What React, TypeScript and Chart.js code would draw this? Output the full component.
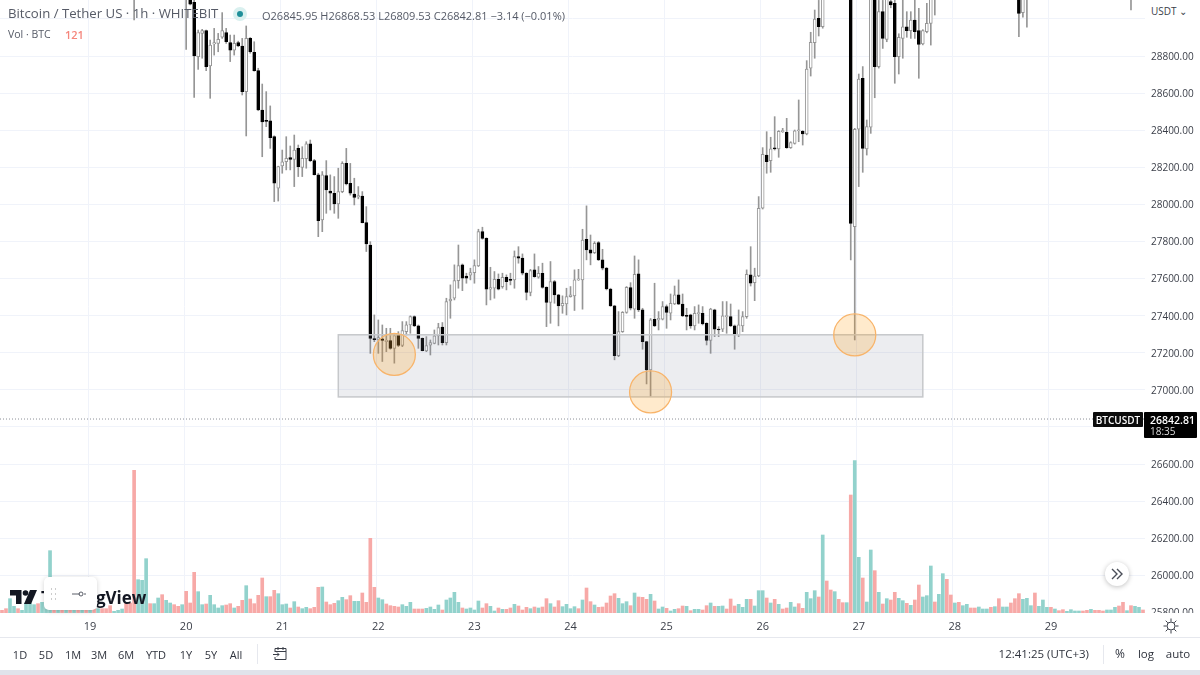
import { useEffect, useRef } from 'react';
import type { CSSProperties } from 'react';
import { Chart, registerables } from 'chart.js';

Chart.register(...registerables);

const gap = (n: number) => Array(n).fill(null);

// hourly candles, index 0 = first hour on the left edge; null = above the visible range
const opens = [
  ...gap(33), 29150, ...gap(12),
  29160, 29130, 29090, 28797, 28922, 28937, 28746, 28865, 28868, 28901,
  28926, 28872, 28832, 28872, 28854, 28608, 28895, 28820, 28721, 28509,
  28452, 28450, 28365, 28087, 28207, 28230, 28252, 28243, 28302, 28200,
  28247, 28326, 28236, 28159, 27916, 28155, 28072, 28060, 28002, 28069,
  28221, 28113, 28056, 28040, 28045, 27902, 27781, 27275, 27269, 27275,
  27260, 27266, 27223, 27296, 27239, 27314, 27350, 27395, 27345, 27278,
  27210, 27241, 27251, 27291, 27338, 27255, 27480, 27494, 27589, 27674,
  27614, 27618, 27632, 27668, 27853, 27817, 27543, 27548, 27596, 27557,
  27607, 27593, 27593, 27719, 27710, 27629, 27525, 27647, 27607, 27629,
  27553, 27472, 27584, 27512, 27453, 27463, 27503, 27507, 27593, 27593,
  27812, 27755, 27740, 27794, 27701, 27656, 27544, 27453, 27185, 27314,
  27418, 27551, 27435, 27625, 27431, 27260, 27108, 27381, 27377, 27381,
  27449, 27413, 27463, 27512, 27462, 27399, 27404, 27345, 27410, 27413,
  27359, 27266, 27431, 27327, 27327, 27395, 27395, 27345, 27296, 27345,
  27395, 27620, 27578, 27614, 27979, 28266, 28236, 28303, 28299, 28392,
  28389, 28306, 28329, 28397, 28394, 28380, 28734, 28872, 29003, 28958,
  ...gap(6),
  29150, 27880, 28405, 28680, 28299, 28416, 29110, 28743, 29039, 28890,
  29093, 29084, 28797, 28895, 28958, 28937, 28994, 28937, 28865, 28931, 28976, 29110,
  ...gap(20), 29150, 29034, 29110, ...gap(25), 29180, ...gap(3),
];

const highs = [
  ...gap(33), 29200, ...gap(12),
  29200, 29150, 29110, 28940, 28944, 28940, 28886, 28949, 28922, 29034,
  28949, 28913, 28913, 28880, 28895, 28962, 28900, 28877, 28734, 28649,
  28608, 28531, 28370, 28206, 28293, 28365, 28315, 28374, 28320, 28311,
  28338, 28347, 28243, 28168, 28177, 28236, 28159, 28150, 28195, 28230,
  28302, 28221, 28141, 28096, 28069, 27988, 27799, 27404, 27377, 27350,
  27332, 27332, 27305, 27314, 27368, 27368, 27399, 27399, 27350, 27280,
  27287, 27269, 27323, 27359, 27363, 27494, 27566, 27674, 27781, 27679,
  27629, 27656, 27701, 27866, 27877, 27820, 27661, 27638, 27625, 27629,
  27620, 27629, 27749, 27772, 27733, 27632, 27650, 27733, 27665, 27683,
  27556, 27692, 27590, 27515, 27507, 27548, 27557, 27647, 27650, 27866,
  27992, 27835, 27799, 27800, 27758, 27660, 27548, 27456, 27422, 27422,
  27557, 27578, 27722, 27701, 27440, 27262, 27385, 27575, 27422, 27476,
  27458, 27517, 27560, 27593, 27517, 27440, 27408, 27449, 27458, 27449,
  27362, 27440, 27435, 27341, 27476, 27476, 27463, 27350, 27431, 27422,
  27647, 27772, 27656, 28042, 28306, 28392, 28362, 28473, 28398, 28410,
  28464, 28338, 28401, 28563, 28398, 28775, 28928, 29048, 29100, 29140,
  ...gap(6),
  29200, 28410, 28703, 28743, 28455, 29120, 29120, 29100, 29100, 29120,
  29110, 29110, 28920, 29102, 29039, 29039, 29102, 29057, 28942, 29084, 29120, 29180,
  ...gap(20), 29200, 29120, 29160, ...gap(25), 29200, ...gap(3),
];

const lows = [
  ...gap(33), 28994, ...gap(12),
  28836, 29075, 28577, 28728, 28788, 28721, 28572, 28805, 28823, 28895,
  28868, 28770, 28805, 28850, 28590, 28369, 28815, 28718, 28505, 28257,
  28419, 28302, 28015, 28018, 28168, 28186, 28186, 28096, 28150, 28150,
  28195, 28230, 28158, 27826, 27853, 27952, 27970, 27952, 27925, 28063,
  28105, 28050, 27997, 28030, 27900, 27746, 27197, 27260, 27197, 27153,
  27206, 27219, 27144, 27233, 27233, 27296, 27305, 27341, 27224, 27210,
  27206, 27188, 27248, 27242, 27242, 27242, 27386, 27485, 27548, 27535,
  27575, 27593, 27575, 27665, 27812, 27458, 27485, 27494, 27539, 27548,
  27539, 27566, 27548, 27683, 27620, 27485, 27507, 27607, 27602, 27548,
  27341, 27359, 27467, 27345, 27413, 27404, 27500, 27428, 27590, 27435,
  27701, 27674, 27735, 27697, 27647, 27539, 27450, 27162, 27179, 27310,
  27413, 27431, 27386, 27422, 27219, 27032, 26964, 27341, 27323, 27377,
  27332, 27377, 27460, 27460, 27395, 27323, 27332, 27323, 27359, 27350,
  27242, 27197, 27287, 27287, 27314, 27305, 27341, 27219, 27287, 27314,
  27386, 27560, 27481, 27610, 27975, 28168, 28173, 28293, 28254, 28388,
  28302, 28302, 28325, 28338, 28320, 28375, 28692, 28788, 28908, 28950,
  ...gap(6),
  27700, 27269, 28096, 28173, 28266, 28383, 28575, 28735, 28841, 28877,
  29060, 28653, 28703, 28788, 28901, 28895, 28895, 28680, 28860, 28925, 28859, 29021,
  ...gap(20), 28904, 29009, 28955, ...gap(25), 29048, ...gap(3),
];

const closes = [
  ...gap(33), 29180, ...gap(12),
  29120, 29080, 28800, 28926, 28937, 28743, 28859, 28872, 28890, 28937,
  28877, 28832, 28868, 28854, 28608, 28895, 28823, 28721, 28509, 28444,
  28448, 28360, 28114, 28204, 28230, 28248, 28243, 28293, 28204, 28248,
  28326, 28236, 28160, 27912, 28159, 28078, 28060, 28002, 28069, 28221,
  28110, 28060, 28038, 28048, 27902, 27787, 27278, 27271, 27282, 27266,
  27269, 27223, 27293, 27239, 27320, 27350, 27395, 27345, 27278, 27212,
  27239, 27255, 27291, 27336, 27255, 27476, 27489, 27589, 27670, 27602,
  27602, 27632, 27670, 27853, 27817, 27543, 27552, 27596, 27543, 27607,
  27584, 27590, 27719, 27710, 27629, 27525, 27643, 27611, 27629, 27553,
  27472, 27584, 27512, 27453, 27467, 27503, 27512, 27593, 27597, 27808,
  27755, 27737, 27790, 27701, 27656, 27544, 27453, 27185, 27314, 27418,
  27553, 27440, 27623, 27431, 27260, 27108, 27377, 27345, 27386, 27449,
  27417, 27467, 27512, 27462, 27399, 27396, 27345, 27413, 27417, 27356,
  27266, 27435, 27327, 27323, 27399, 27398, 27345, 27296, 27350, 27395,
  27623, 27575, 27614, 27979, 28270, 28230, 28299, 28299, 28394, 28396,
  28306, 28333, 28396, 28401, 28380, 28730, 28874, 28999, 28958, 29110,
  ...gap(6),
  27898, 28405, 28676, 28302, 28419, 29110, 28743, 29039, 28895, 29105,
  29075, 28797, 28901, 28958, 28937, 28994, 28931, 28863, 28937, 28976, 29110, 29170,
  ...gap(20), 29030, 29110, 29150, ...gap(25), 29160, ...gap(3),
];

// BTC per hour
const volumes = [
  107, 173, 573, 267, 173, 107, 400, 400, 333, 373,
  427, 333, 2493, 267, 240, 200, 293, 213, 187, 267,
  160, 200, 240, 173, 173, 173, 173, 293, 67, 107,
  160, 400, 400, 5707, 1333, 1307, 2173, 373, 373, 600,
  733, 507, 400, 333, 267, 333, 867, 400, 1627, 853,
  333, 360, 707, 333, 200, 293, 320, 373, 200, 267,
  507, 1093, 560, 373, 707, 1400, 653, 653, 907, 773,
  333, 360, 200, 453, 240, 173, 227, 173, 227, 1027,
  1040, 440, 333, 387, 493, 627, 533, 693, 467, 467,
  800, 427, 2987, 1027, 600, 533, 360, 293, 267, 240,
  333, 267, 427, 160, 160, 160, 187, 240, 147, 320,
  120, 520, 600, 827, 427, 200, 160, 200, 120, 480,
  200, 373, 267, 80, 200, 147, 147, 200, 347, 280,
  120, 227, 173, 240, 200, 240, 573, 373, 240, 493,
  253, 347, 173, 253, 173, 520, 1000, 453, 320, 227,
  240, 400, 680, 773, 587, 373, 453, 293, 800, 640,
  627, 547, 747, 480, 160, 240, 187, 80, 147, 173,
  280, 267, 93, 147, 147, 120, 293, 400, 267, 267,
  280, 160, 560, 280, 347, 227, 547, 547, 280, 893,
  893, 600, 400, 547, 347, 160, 200, 427, 240, 373,
  187, 827, 573, 893, 640, 3120, 1280, 920, 853, 547,
  413, 413, 4720, 6093, 2227, 1400, 440, 2520, 1693, 827,
  360, 573, 520, 827, 587, 493, 387, 307, 520, 1120,
  640, 693, 1880, 440, 747, 1573, 1347, 720, 400, 427,
  293, 347, 200, 200, 240, 160, 160, 227, 253, 573,
  240, 240, 400, 573, 773, 547, 587, 293, 800, 267,
  520, 227, 227, 160, 93, 133, 67, 133, 80, 80,
  80, 107, 147, 107, 107, 80, 120, 120, 227, 280,
  427, 93, 293, 267, 227, 121,
];

// u = up bar, d = down bar, same order as volumes
const volumeSides = [
  'dduuduuuud', 'uuudududud', 'udududdduu', 'uddduuuduu', 'duuddudddu',
  'uduuuuddud', 'dudddduddu', 'uududuuddd', 'uddduudduu', 'dddduudddd',
  'uuuddduuuu', 'duuuuduuuu', 'dduududdud', 'ddududdudd', 'uuuududdud',
  'dddduuudud', 'dduduuduud', 'duduuddudu', 'uddduuuduu', 'udududduud',
  'duuududdud', 'duduuduudu', 'dudduududd', 'uuuduuddud', 'uudduuudud',
  'uuddduuudu', 'uududduuuu', 'dduddduuud', 'duduud',
].join('');

const dayLabels: Record<number, string> = {
  22: '19', 46: '20', 70: '21', 94: '22', 118: '23', 142: '24',
  166: '25', 190: '26', 214: '27', 238: '28', 262: '29',
};
const hours = volumes.map((_, i) => dayLabels[i] ?? '');

const priceTicks = [25800, 26000, 26200, 26400, 26600, 26800, 27000, 27200, 27400, 27600, 27800, 28000, 28200, 28400, 28600, 28800, 29000];
const hiddenPriceLabels = [26800, 29000];
const lastPrice = 26842.81;

// drawn zone and the three touches
const zone = { fromHour: 84, toHour: 230, top: 27297, bottom: 26962 };
const touches = [
  { hour: 98, price: 27191 },
  { hour: 162, price: 26989 },
  { hour: 213, price: 27296 },
];

const FONT = '"Open Sans", sans-serif';
const GRID = '#f0f3fa';
const UP_VOL = '#92d2cc';
const DOWN_VOL = '#f7a9a7';

const noPadding = (s: any) => {
  s.paddingLeft = 0;
  s.paddingRight = 0;
  s.paddingTop = 0;
  s.paddingBottom = 0;
};

const drawings = {
  id: 'drawings',
  afterDatasetsDraw(chart: Chart) {
    const { ctx, chartArea } = chart;
    const x = chart.scales.x;
    const y = chart.scales.y;
    ctx.save();

    const lastY = y.getPixelForValue(lastPrice);
    ctx.strokeStyle = '#8b8f98';
    ctx.lineWidth = 1;
    ctx.setLineDash([1, 2]);
    ctx.beginPath();
    ctx.moveTo(chartArea.left, lastY);
    ctx.lineTo(chartArea.right, lastY);
    ctx.stroke();
    ctx.setLineDash([]);

    const left = x.getPixelForValue(zone.fromHour);
    const right = x.getPixelForValue(zone.toHour);
    const top = y.getPixelForValue(zone.top);
    const bottom = y.getPixelForValue(zone.bottom);
    ctx.fillStyle = 'rgba(120, 130, 150, 0.14)';
    ctx.fillRect(left, top, right - left, bottom - top);
    ctx.strokeStyle = '#c6c8cb';
    ctx.lineWidth = 1.5;
    ctx.strokeRect(left, top, right - left, bottom - top);

    for (const t of touches) {
      ctx.beginPath();
      ctx.arc(x.getPixelForValue(t.hour), y.getPixelForValue(t.price), 21, 0, Math.PI * 2);
      ctx.fillStyle = 'rgba(255, 152, 0, 0.2)';
      ctx.fill();
      ctx.strokeStyle = '#f8b46a';
      ctx.lineWidth = 1.3;
      ctx.stroke();
    }
    ctx.restore();
  },
};

function PriceChart() {
  const canvasRef = useRef<HTMLCanvasElement>(null);

  useEffect(() => {
    if (!canvasRef.current) return;
    const chart = new Chart(canvasRef.current, {
      type: 'bar',
      data: {
        labels: hours,
        datasets: [
          {
            label: 'Vol',
            data: volumes,
            yAxisID: 'vol',
            order: 3,
            grouped: false,
            barThickness: 3,
            backgroundColor: volumes.map((_, i) => (volumeSides[i] === 'u' ? UP_VOL : DOWN_VOL)),
          },
          {
            label: 'Wick',
            data: highs.map((h, i) => (h === null ? null : [lows[i], h])),
            yAxisID: 'y',
            order: 2,
            grouped: false,
            barThickness: 1,
            backgroundColor: '#969696',
          },
          {
            label: 'Body',
            data: opens.map((o, i) => (o === null ? null : [o, closes[i]])),
            yAxisID: 'y',
            order: 1,
            grouped: false,
            barThickness: 3,
            minBarLength: 1,
            borderWidth: 1,
            borderSkipped: false,
            backgroundColor: opens.map((o, i) => (closes[i] >= o ? '#ffffff' : '#000000')),
            borderColor: opens.map((o, i) => (closes[i] >= o ? '#969696' : '#000000')),
          },
        ],
      } as any,
      options: {
        responsive: false,
        animation: false,
        devicePixelRatio: 1,
        layout: { padding: { left: 0, right: 0, top: 0, bottom: 38 } },
        plugins: { legend: { display: false }, tooltip: { enabled: false } },
        scales: {
          x: {
            offset: true,
            afterFit: (s: any) => { s.height = 24; noPadding(s); },
            border: { display: false },
            grid: {
              drawTicks: false,
              color: (c: any) => (c.tick && c.tick.label ? GRID : 'transparent'),
            },
            ticks: {
              autoSkip: false,
              maxRotation: 0,
              padding: 7,
              color: '#3a3e48',
              font: { family: FONT, size: 11 },
            },
          },
          y: {
            position: 'right',
            min: 25797,
            max: 29102,
            afterFit: (s: any) => { s.width = 55; noPadding(s); },
            afterBuildTicks: (s: any) => { s.ticks = priceTicks.map((value) => ({ value })); },
            border: { display: false },
            grid: { color: GRID, drawTicks: false },
            ticks: {
              padding: 6,
              labelOffset: 1,
              color: '#3a3e48',
              font: { family: FONT, size: 10 },
              callback: (v: any) => (hiddenPriceLabels.includes(Number(v)) ? '' : Number(v).toFixed(2)),
            },
          },
          vol: { display: false, min: 0, max: 24520 },
        },
      },
      plugins: [drawings],
    });
    return () => chart.destroy();
  }, []);

  return <canvas ref={canvasRef} width={1200} height={675} style={{ position: 'absolute', left: 0, top: 0, width: 1200, height: 675 }} />;
}

function Text({ x, y, size = 12, color = '#3a3e48', right, center, weight, children }: any) {
  const style: CSSProperties = {
    position: 'absolute',
    top: y,
    left: center || right ? undefined : x,
    lineHeight: 1,
    fontSize: size,
    color,
    fontWeight: weight,
    whiteSpace: 'nowrap',
    transform: 'translateY(-50%)' + (center ? ' translateX(-50%)' : ''),
  };
  if (center) style.left = x;
  if (right) style.right = 1200 - x;
  return <div style={style}>{children}</div>;
}

const box = (x: number, y: number, w: number, h: number, extra: CSSProperties = {}): CSSProperties => ({
  position: 'absolute', left: x, top: y, width: w, height: h, ...extra,
});

const rangeButtons: [string, number][] = [
  ['1D', 20], ['5D', 46], ['1M', 73], ['3M', 99], ['6M', 126], ['YTD', 156], ['1Y', 186], ['5Y', 211], ['All', 236],
];

export default function App() {
  return (
    <div style={{ position: 'fixed', left: 0, top: 0, width: 1200, height: 675, overflow: 'hidden', background: '#fff', fontFamily: FONT }}>
      <PriceChart />

      <Text x={8} y={14} size={13.2} color="#555a66">Bitcoin / Tether US · 1h · WHITEBIT</Text>
      <div style={box(233, 7, 14, 14, { borderRadius: 7, background: '#d9f0ef' })} />
      <div style={box(237, 11, 6, 6, { borderRadius: 3, background: '#1f8f99' })} />
      <Text x={262} y={15} size={11} color="#555a66">O26845.95 H26868.53 L26809.53 C26842.81 −3.14 (−0.01%)</Text>
      <Text x={8} y={34} size={10.5} color="#555a66">Vol · BTC</Text>
      <Text x={65} y={34} size={11} color="#f5867c" weight={600}>121</Text>

      <div style={box(1146, 0, 54, 24, { background: '#fff' })} />
      <Text x={1151} y={11} size={10} color="#3a3e48">USDT ⌄</Text>

      <div style={box(1093, 412, 50, 15, { background: '#0c0c0c', borderRadius: 1 })} />
      <Text x={1118} y={419.5} size={10} center color="#fff" weight={600}>BTCUSDT</Text>
      <div style={box(1144, 412, 53, 26, { background: '#000', borderRadius: 1 })} />
      <Text x={1150} y={419.5} size={10.5} color="#fff" weight={600}>26842.81</Text>
      <Text x={1150} y={431} size={10} color="#ddd">18:35</Text>

      <div style={box(1146, 613, 54, 23, { background: '#fff' })} />
      <svg style={box(1162, 617, 18, 18)} viewBox="0 0 18 18" fill="none" stroke="#3a3e48" strokeWidth="1">
        <circle cx="9" cy="9" r="4" />
        <path d="M9 1.5v3M9 13.5v3M1.5 9h3M13.5 9h3M3.7 3.7l2.1 2.1M12.2 12.2l2.1 2.1M3.7 14.3l2.1-2.1M12.2 5.8l2.1-2.1" />
      </svg>

      <div style={box(1105, 562, 24, 24, { borderRadius: 12, background: '#fff', boxShadow: '0 1px 5px rgba(0,0,0,.25)' })} />
      <svg style={box(1110, 568, 14, 12)} viewBox="0 0 14 12" fill="none" stroke="#4a4e58" strokeWidth="1.4">
        <path d="M2 1l5 5-5 5M7 1l5 5-5 5" />
      </svg>

      <svg style={box(10, 589, 27, 16)} viewBox="0 0 27 16" fill="#131722">
        <path d="M0 1h11.5v14H6V6.5H0z" />
        <circle cx="15.5" cy="4" r="2.8" />
        <path d="M20 1h7l-6 14h-7z" />
      </svg>
      <Text x={41} y={597} size={17} color="#131722" weight={700}>TradingView</Text>
      <div style={box(44, 577, 53, 33, { borderRadius: 5, background: '#fff', boxShadow: '0 1px 5px rgba(0,0,0,.18)' })} />
      <svg style={box(48, 586, 45, 16)} viewBox="0 0 45 16" fill="none" stroke="#5a5e68">
        <path d="M3 3h.8M7 3h.8M3 8h.8M7 8h.8M3 13h.8M7 13h.8" stroke="#aaa" strokeWidth="1.4" />
        <path d="M24 8h8M38 8h-2" />
        <circle cx="33" cy="8" r="2" />
      </svg>

      <div style={box(0, 637, 1200, 1, { background: '#e6e8ee' })} />
      {rangeButtons.map(([label, x]) => (
        <Text key={label} x={x} y={654} size={11} center color="#2f333d">{label}</Text>
      ))}
      <div style={box(257, 644, 1, 20, { background: '#e6e8ee' })} />
      <svg style={box(272, 646, 16, 16)} viewBox="0 0 16 16" fill="none" stroke="#3a3e48">
        <path d="M3 6V2.5h11v11H3V11M3 5.5h11M6 1v3M11 1v3M1 8.5h6M5 6.5l2 2-2 2" />
      </svg>
      <Text x={1089} y={654} size={11.5} right color="#2f333d">12:41:25 (UTC+3)</Text>
      <div style={box(1103, 645, 1, 19, { background: '#e6e8ee' })} />
      <Text x={1120} y={654} size={12} center color="#2f333d">%</Text>
      <Text x={1146} y={654} size={11.5} center color="#2f333d">log</Text>
      <Text x={1178} y={654} size={11.5} center color="#2f333d">auto</Text>

      <div style={box(0, 670, 1200, 5, { background: '#e0e3eb' })} />
    </div>
  );
}
